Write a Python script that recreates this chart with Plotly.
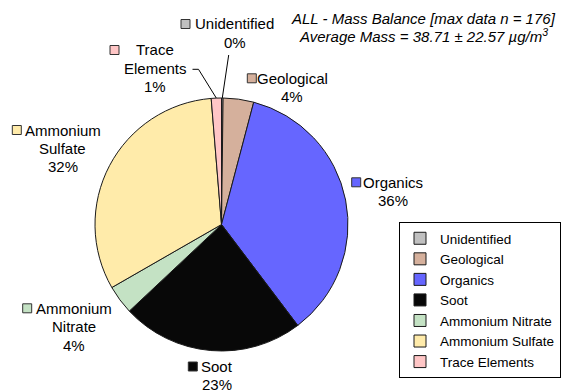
import math
import plotly.graph_objects as go

# Mass balance composition (percent of average mass), clockwise from 12 o'clock
categories = ["Unidentified", "Geological", "Organics", "Soot",
              "Ammonium Nitrate", "Ammonium Sulfate", "Trace Elements"]
values = [0.2, 3.9, 35.6, 23.3, 3.7, 32.0, 1.3]
label_lines = [["Unidentified"], ["Geological"], ["Organics"], ["Soot"],
               ["Ammonium", "Nitrate"], ["Ammonium", "Sulfate"], ["Trace", "Elements"]]
colors = ["#C0C0C0", "#D5B09C", "#6666FF", "#080808",
          "#C4E2C4", "#FFEBAA", "#FFC6C6"]

title_lines = ["ALL - Mass Balance [max data n = 176]",
               "Average Mass = 38.71 \u00b1 22.57 \u00b5g/m<sup>3</sup>"]

W, H = 561, 392
FONT = "Liberation Sans, Arial, sans-serif"

# pie geometry in pixels
CX, CY, R = 221.5, 224.5, 126.5

# label placement: (centre x of text block, y of first line, left x of key box)
label_pos = [(234.5, 24, 181.0), (292.0, 78.3, 247.3), (393.0, 182.3, 351.7),
             (217.0, 366.5, 188.3), (73.5, 308.3, 22.7), (62.5, 130.0, 12.3),
             (155.0, 50.0, 110.0)]
LINE_GAP = 18.4
BOX = 9


def px(x, y):
    return x / W, 1 - y / H


fig = go.Figure()
fig.add_trace(go.Pie(
    labels=categories, values=values, sort=False, direction="clockwise",
    rotation=0, textinfo="none", hoverinfo="label+percent",
    marker=dict(colors=colors, line=dict(color="#1a1a1a", width=1)),
    domain=dict(x=[(CX - R) / W, (CX + R) / W], y=[1 - (CY + R) / H, 1 - (CY - R) / H]),
))

annotations = []
shapes = []
total = sum(values)
for name_lines, v, col, (cx, y1, bx) in zip(label_lines, values, colors, label_pos):
    lines = name_lines + [f"{round(v / total * 100)}%"]
    for i, t in enumerate(lines):
        x, y = px(cx, min(y1 + i * LINE_GAP, 384.0))
        annotations.append(dict(x=x, y=y, xref="paper", yref="paper", text=t,
                                showarrow=False, xanchor="center", yanchor="middle",
                                font=dict(family=FONT, size=15, color="#000000")))
    x0, y0 = px(bx, y1 - BOX / 2)
    x1, y1p = px(bx + BOX, y1 + BOX / 2)
    shapes.append(dict(type="rect", xref="paper", yref="paper", x0=x0, y0=y0, x1=x1, y1=y1p,
                       fillcolor=col, line=dict(color="#333333", width=1)))


def slice_mid_point(idx):
    start = sum(values[:idx]) / total
    mid = (start + values[idx] / total / 2) * 2 * math.pi
    return CX + R * math.sin(mid), CY - R * math.cos(mid)


# leader lines for the two thin slices at the top
ux, uy = slice_mid_point(0)
tx, ty = slice_mid_point(6)
for path_pts in ([(228.7, 55.0), (ux, uy)], [(192.5, 69.3), (198.5, 69.3), (tx, ty)]):
    for (xa, ya), (xb, yb) in zip(path_pts[:-1], path_pts[1:]):
        p0, p1 = px(xa, ya), px(xb, yb)
        shapes.append(dict(type="line", xref="paper", yref="paper",
                           x0=p0[0], y0=p0[1], x1=p1[0], y1=p1[1],
                           line=dict(color="#000000", width=1)))

for t, ty_ in zip(title_lines, (18.3, 35.5)):
    x, y = px(424, ty_)
    annotations.append(dict(x=x, y=y, xref="paper", yref="paper", text=f"<i>{t}</i>",
                            showarrow=False, xanchor="center", yanchor="middle",
                            font=dict(family=FONT, size=15, color="#000000")))

lx, ly = px(399, 222)
fig.update_layout(
    width=W, height=H, margin=dict(l=0, r=0, t=0, b=0, autoexpand=False),
    paper_bgcolor="#FFFFFF", plot_bgcolor="#FFFFFF",
    showlegend=True,
    legend=dict(x=lx, y=ly, xanchor="left", yanchor="top",
                bordercolor="#000000", borderwidth=1, bgcolor="#FFFFFF",
                font=dict(family=FONT, size=13.5, color="#000000"),
                traceorder="normal", itemclick=False),
    annotations=annotations, shapes=shapes,
)

fig.write_html("out.html")
